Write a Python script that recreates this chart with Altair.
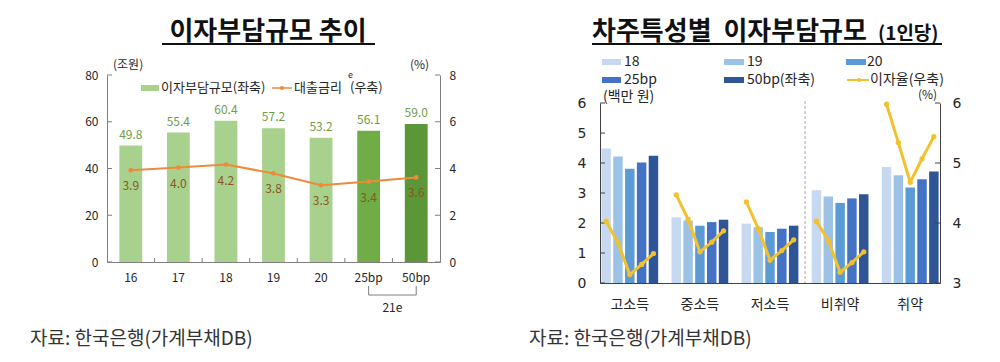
import altair as alt
import pandas as pd

FONT = "Noto Sans CJK KR"
NUMFONT = "DejaVu Sans"

# ---------------- Left chart data ----------------
years = ["16", "17", "18", "19", "20", "25bp", "50bp"]
burden = [49.8, 55.4, 60.4, 57.2, 53.2, 56.1, 59.0]
loan_rate = [3.93, 4.04, 4.17, 3.79, 3.28, 3.44, 3.62]
bar_kind = ["past", "past", "past", "past", "past", "25bp", "50bp"]
left_ticks = [0, 20, 40, 60, 80]
left_rticks = [0, 2, 4, 6, 8]
boundary_cats = ["17", "18", "19", "20", "25bp", "50bp"]
bracket_cats = ["25bp", "50bp"]

# ---------------- Right chart data ----------------
groups = ["고소득", "중소득", "저소득", "비취약", "취약"]
series = ["18", "19", "20", "25bp", "50bp"]
amt_high = [4.48, 4.22, 3.81, 4.02, 4.24]
amt_mid = [2.19, 2.08, 1.91, 2.03, 2.11]
amt_low = [1.98, 1.86, 1.70, 1.81, 1.91]
amt_nonvul = [3.09, 2.88, 2.67, 2.82, 2.96]
amt_vul = [3.87, 3.59, 3.18, 3.46, 3.72]
rate_high = [4.03, 3.67, 3.14, 3.31, 3.49]
rate_mid = [4.47, 4.06, 3.52, 3.68, 3.87]
rate_low = [4.35, 3.91, 3.38, 3.54, 3.72]
rate_nonvul = [4.03, 3.71, 3.18, 3.34, 3.52]
rate_vul = [5.98, 5.34, 4.68, 5.07, 5.44]
right_ticks = [0, 1, 2, 3, 4, 5, 6]
right_rticks = [3, 4, 5, 6]
separator_group = ["비취약"]

W1, H1 = 333, 187
W2, H2 = 340, 180
TOP2 = 28               # right plot area starts lower than the left one
H2T = H2 + TOP2

LGRAY = "#7f7f7f"
DARK = "#262626"

one = pd.DataFrame({"k": [0]})


def txt(s, x, y, size=12, color=DARK, align="left", baseline="middle", weight="normal", font=FONT):
    return alt.Chart(one).mark_text(
        text=s, align=align, baseline=baseline, fontSize=size, color=color,
        fontWeight=weight, font=font
    ).encode(x=alt.value(x), y=alt.value(y))


def hrule(x1, x2, y, color=DARK, width=1.0):
    return alt.Chart(one).mark_rule(color=color, strokeWidth=width).encode(
        x=alt.value(x1), x2=alt.value(x2), y=alt.value(y))


def swatch(x1, x2, y1, y2, color):
    return alt.Chart(one).mark_rect(color=color).encode(
        x=alt.value(x1), x2=alt.value(x2), y=alt.value(y1), y2=alt.value(y2))


def dot(x, y, color, size=20):
    return alt.Chart(one).mark_circle(color=color, size=size, opacity=1).encode(
        x=alt.value(x), y=alt.value(y))


# ================= LEFT CHART =================
df1 = pd.DataFrame({"cat": years, "burden": burden, "rate": loan_rate,
                    "kind": bar_kind, "idx": list(range(len(years)))})
P1 = 0.52
STEP1 = W1 / len(years)
xscale1 = alt.Scale(paddingInner=P1, paddingOuter=P1 / 2)
xaxis1 = alt.Axis(title=None, labelAngle=0, ticks=False, labelFontSize=12,
                  labelPadding=10, domainColor=LGRAY, labelColor=DARK, labelFont=FONT)
x1 = alt.X("cat:N", sort=years, scale=xscale1, axis=xaxis1)

yscale1 = alt.Scale(domain=[0, 80])
yaxis1 = alt.Axis(values=left_ticks, title=None, ticks=False, grid=False,
                  labelFontSize=12, labelPadding=9, domainColor=LGRAY,
                  labelColor=DARK, labelFont=FONT)
rscale1 = alt.Scale(domain=[0, 8])
raxis1 = alt.Axis(orient="right", values=left_rticks, title=None, ticks=False,
                  grid=False, labelFontSize=12, labelPadding=9,
                  domainColor=LGRAY, labelColor=DARK, labelFont=FONT)

bars1 = alt.Chart(df1).mark_bar().encode(
    x=x1,
    y=alt.Y("burden:Q", scale=yscale1, axis=yaxis1),
    color=alt.Color("kind:N", scale=alt.Scale(domain=["past", "25bp", "50bp"],
                                              range=["#a9d18e", "#70ad47", "#5b9638"]),
                    legend=None),
)
bar_labels1 = alt.Chart(df1).mark_text(dy=-11, fontSize=12, color="#6f9d45", font=FONT,
                                       baseline="middle").encode(
    x=x1, y=alt.Y("burden:Q", scale=yscale1, axis=yaxis1),
    text=alt.Text("burden:Q", format=".1f"))

lt1 = alt.Chart(pd.DataFrame({"v": left_ticks})).mark_rule(color=LGRAY).encode(
    y=alt.Y("v:Q", scale=yscale1, axis=yaxis1), x=alt.value(0), x2=alt.value(5))

# category-boundary ticks on the x axis (offset is measured from the band start)
xt1 = alt.Chart(pd.DataFrame({"cat": boundary_cats})).mark_rule(color=LGRAY).encode(
    x=x1, xOffset=alt.value(-STEP1 * P1 / 2),
    y=alt.value(H1 - 4), y2=alt.value(H1))

br_v = alt.Chart(pd.DataFrame({"cat": bracket_cats})).mark_rule(color=LGRAY).encode(
    x=x1, y=alt.value(H1 + 24), y2=alt.value(H1 + 33))
br_h = alt.Chart(pd.DataFrame({"cat": ["25bp"], "cat2": ["50bp"]})).mark_rule(color=LGRAY).encode(
    x=x1, x2="cat2:N", y=alt.value(H1 + 33))
br_t = alt.Chart(pd.DataFrame({"cat": ["25bp"]})).mark_text(
    text="21e", fontSize=12, color=DARK, font=FONT, baseline="middle",
    dx=STEP1 / 2).encode(x=x1, y=alt.value(H1 + 46))

ORANGE = "#ee8a3c"
left_decor = [
    txt("이자부담규모 추이", 161, -35, size=26, weight="bold", align="center",
        baseline="alphabetic", color="#111111"),
    hrule(55, 268, -31, color="#111111", width=2),
    txt("(조원)", 6, -10, size=12),
    txt("(%)", 303, -10, size=12),
    swatch(34, 52, 10, 16, "#a9d18e"),
    txt("이자부담규모(좌축)", 54, 13, size=13),
    hrule(165, 185, 13, color=ORANGE, width=1.5),
    dot(175, 13, ORANGE, 18),
    txt("대출금리", 187, 13, size=13),
    txt("e", 241, 0, size=9),
    txt("(우축)", 243, 13, size=13),
    txt("자료: 한국은행(가계부채DB)", -77, 264, size=19, color="#333333"),
]

left_group = alt.layer(bars1, bar_labels1, lt1, xt1, br_v, br_h, br_t, *left_decor)

line1 = alt.Chart(df1).mark_line(
    color=ORANGE, strokeWidth=2,
    point=alt.OverlayMarkDef(color=ORANGE, size=22, filled=True, opacity=1)).encode(
    x=x1, y=alt.Y("rate:Q", scale=rscale1, axis=raxis1), order="idx:Q")
line_labels1 = alt.Chart(df1).mark_text(dy=16, fontSize=12, color="#8a561c", font=FONT,
                                        baseline="middle").encode(
    x=x1, y=alt.Y("rate:Q", scale=rscale1, axis=raxis1),
    text=alt.Text("rate:Q", format=".1f"))
rt1 = alt.Chart(pd.DataFrame({"v": left_rticks})).mark_rule(color=LGRAY).encode(
    y=alt.Y("v:Q", scale=rscale1, axis=raxis1), x=alt.value(W1 - 5), x2=alt.value(W1))

right_group1 = alt.layer(line1, line_labels1, rt1)

left_chart = alt.layer(left_group, right_group1).resolve_scale(y="independent").properties(
    width=W1, height=H1)

# ================= RIGHT CHART =================
amts = [amt_high, amt_mid, amt_low, amt_nonvul, amt_vul]
rates = [rate_high, rate_mid, rate_low, rate_nonvul, rate_vul]
rows = []
for g, a_list, r_list in zip(groups, amts, rates):
    for i, (s, a, r) in enumerate(zip(series, a_list, r_list)):
        rows.append({"group": g, "series": s, "amt": a, "rate": r, "idx": i})
df2 = pd.DataFrame(rows)

BLUES = ["#c6d9f0", "#9cc2e5", "#5b9bd5", "#4472c4", "#2f5597"]
GOLD = "#f2c12e"
AX2 = "#404040"
P2 = 0.19
O2 = 0.02
STEP2 = W2 / (len(groups) - P2 + 2 * O2)

xscale2 = alt.Scale(paddingInner=P2, paddingOuter=O2)
xaxis2 = alt.Axis(title=None, labelAngle=0, ticks=False, labelFontSize=14,
                  labelPadding=14, domainColor=AX2, labelColor=DARK, labelFont=FONT)
x2 = alt.X("group:N", sort=groups, scale=xscale2, axis=xaxis2)
xo2 = alt.XOffset("series:N", sort=series, scale=alt.Scale(paddingInner=0.2, paddingOuter=0))

yscale2 = alt.Scale(domain=[0, 6], range=[H2T, TOP2])
yaxis2 = alt.Axis(values=right_ticks, title=None, ticks=False, grid=False,
                  labelFontSize=14, labelPadding=14, domainColor=AX2,
                  labelColor=DARK, labelFont=NUMFONT)
rscale2 = alt.Scale(domain=[3, 6], range=[H2T, TOP2])
raxis2 = alt.Axis(orient="right", values=right_rticks, title=None, ticks=False,
                  grid=False, labelFontSize=14, labelPadding=12,
                  domainColor=AX2, labelColor=DARK, labelFont=NUMFONT)

bars2 = alt.Chart(df2).mark_bar().encode(
    x=x2, xOffset=xo2,
    y=alt.Y("amt:Q", scale=yscale2, axis=yaxis2),
    color=alt.Color("series:N", sort=series,
                    scale=alt.Scale(domain=series, range=BLUES), legend=None),
)
lt2 = alt.Chart(pd.DataFrame({"v": right_ticks})).mark_rule(color=AX2).encode(
    y=alt.Y("v:Q", scale=yscale2, axis=yaxis2), x=alt.value(0), x2=alt.value(5))
sep2 = alt.Chart(pd.DataFrame({"group": separator_group})).mark_rule(
    color="#a6a6a6", strokeDash=[3, 2]).encode(
    x=x2, xOffset=alt.value(-STEP2 * P2 / 2),
    y=alt.value(TOP2 - 2), y2=alt.value(H2T))

R1, R2 = -13, 5   # legend rows
right_decor = [
    txt("차주특성별\u00a0\u00a0이자부담규모", -8, -35, size=26, weight="bold",
        baseline="alphabetic", color="#111111"),
    txt("(1인당)", 278, -35, size=19, weight="bold", baseline="alphabetic",
        color="#111111"),
    hrule(-8, 342, -31, color="#111111", width=2),
    swatch(2, 21, R1 - 3, R1 + 3, BLUES[0]), txt("18", 24, R1, size=14),
    swatch(124, 144, R1 - 3, R1 + 3, BLUES[1]), txt("19", 147, R1, size=14),
    swatch(246, 266, R1 - 3, R1 + 3, BLUES[2]), txt("20", 267, R1, size=14),
    swatch(2, 21, R2 - 3, R2 + 3, BLUES[3]), txt("25bp", 24, R2, size=14),
    swatch(124, 144, R2 - 3, R2 + 3, BLUES[4]), txt("50bp(좌축)", 147, R2, size=14),
    hrule(247, 269, R2, color=GOLD, width=2), dot(259, R2, GOLD, 18),
    txt("이자율(우축)", 270, R2, size=14),
    txt("(백만 원)", 3, 22, size=14),
    txt("(%)", 318, 20, size=12),
    txt("자료: 한국은행(가계부채DB)", -71, 264, size=19, color="#333333"),
]

left_group2 = alt.layer(bars2, lt2, sep2, *right_decor)

line2 = alt.Chart(df2).mark_line(color=GOLD, strokeWidth=3).encode(
    x=x2, xOffset=xo2,
    y=alt.Y("rate:Q", scale=rscale2, axis=raxis2),
    detail="group:N", order="idx:Q")
pts2 = alt.Chart(df2).mark_circle(color=GOLD, size=28, opacity=1).encode(
    x=x2, xOffset=xo2, y=alt.Y("rate:Q", scale=rscale2, axis=raxis2))
rt2 = alt.Chart(pd.DataFrame({"v": right_rticks})).mark_rule(color=AX2).encode(
    y=alt.Y("v:Q", scale=rscale2, axis=raxis2), x=alt.value(W2 - 5), x2=alt.value(W2))

right_group2 = alt.layer(line2, pts2, rt2)

right_chart = alt.layer(left_group2, right_group2).resolve_scale(y="independent").properties(
    width=W2, height=H2T)

chart = alt.hconcat(left_chart, right_chart, spacing=73).resolve_scale(
    color="independent", x="independent", xOffset="independent").properties(
    padding={"left": 22, "top": 11, "right": 0, "bottom": 0},
    background="white",
).configure_view(stroke=None)

chart.save("out.html", embed_options={"renderer": "svg", "actions": False})
